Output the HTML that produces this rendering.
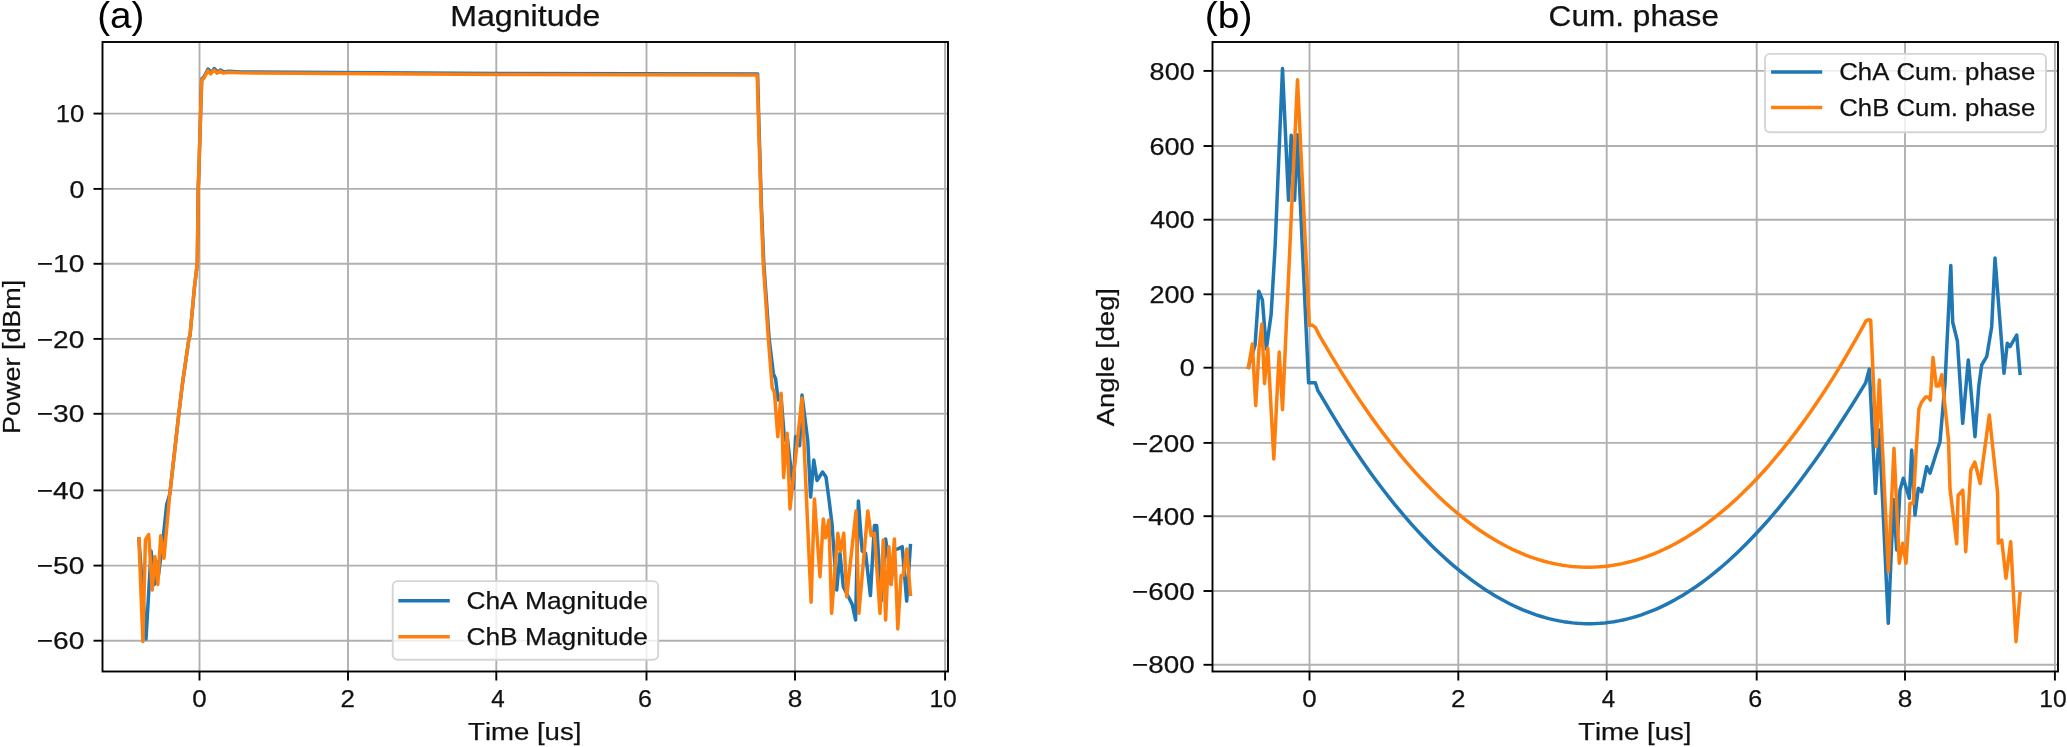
<!DOCTYPE html>
<html><head><meta charset="utf-8"><title>Magnitude and Cum. phase</title>
<style>
html,body{margin:0;padding:0;background:#fff;width:2067px;height:747px;overflow:hidden}
svg{display:block;will-change:transform}
text{font-family:"Liberation Sans",sans-serif;fill:#111;stroke:#111;stroke-width:0.25px;font-kerning:none}
text.nb{stroke:none;fill:#000}
</style></head>
<body><svg width="2067" height="747" viewBox="0 0 2067 747">
<rect x="0" y="0" width="2067" height="747" fill="#ffffff"/>
<defs><clipPath id="cl"><rect x="102.5" y="42.0" width="845.5" height="629.5"/></clipPath><clipPath id="cr"><rect x="1212.5" y="42.0" width="845.5" height="629.5"/></clipPath></defs>
<g stroke="#b0b0b0" stroke-width="1.9" stroke-linecap="square" clip-path="url(#cl)"><line x1="199.5" y1="42.0" x2="199.5" y2="671.5"/><line x1="348.0" y1="42.0" x2="348.0" y2="671.5"/><line x1="496.3" y1="42.0" x2="496.3" y2="671.5"/><line x1="646.5" y1="42.0" x2="646.5" y2="671.5"/><line x1="795.0" y1="42.0" x2="795.0" y2="671.5"/><line x1="945.1" y1="42.0" x2="945.1" y2="671.5"/><line x1="102.5" y1="113.60" x2="948.0" y2="113.60"/><line x1="102.5" y1="188.90" x2="948.0" y2="188.90"/><line x1="102.5" y1="263.80" x2="948.0" y2="263.80"/><line x1="102.5" y1="338.90" x2="948.0" y2="338.90"/><line x1="102.5" y1="413.80" x2="948.0" y2="413.80"/><line x1="102.5" y1="490.40" x2="948.0" y2="490.40"/><line x1="102.5" y1="565.60" x2="948.0" y2="565.60"/><line x1="102.5" y1="640.70" x2="948.0" y2="640.70"/></g>
<g clip-path="url(#cl)" fill="none" stroke-width="3.5" stroke-linejoin="round" stroke-linecap="square"><polyline stroke="#1f77b4" points="138.90,538.90 146.00,639.00 151.10,551.10 154.40,584.40 157.00,562.00 158.50,575.00 163.50,535.00 166.70,504.40 169.80,494.00 173.30,463.00 178.90,413.00 182.20,385.60 188.90,338.90 190.00,335.60 194.40,287.80 197.30,263.30 198.20,188.90 198.90,170.00 200.60,113.60 201.70,79.00 203.90,77.00 208.00,69.00 211.00,72.50 214.20,68.50 217.50,72.00 220.50,70.00 224.00,72.00 229.00,71.20 240.00,71.90 500.00,73.50 757.60,74.00 758.60,113.30 761.40,206.00 763.80,263.80 769.20,339.30 773.30,373.30 775.60,378.90 778.20,400.00 781.00,396.00 784.50,440.00 787.10,436.00 793.30,488.90 795.60,436.70 799.60,445.60 802.00,395.00 807.80,441.10 810.60,497.00 813.80,460.00 817.00,480.50 822.60,472.00 826.00,477.00 829.20,501.10 832.00,524.00 836.70,590.00 840.00,553.30 843.30,586.70 848.90,597.80 852.20,604.40 855.60,620.00 858.40,501.10 862.20,551.10 865.60,553.30 870.40,595.60 874.40,525.60 876.70,525.60 881.10,601.10 885.60,538.90 888.50,560.00 891.10,584.40 894.00,550.00 897.80,548.90 902.20,546.70 906.70,601.10 910.40,545.60"/><polyline stroke="#ff7f0e" points="138.90,538.90 142.90,641.50 145.40,539.90 148.70,534.50 152.20,590.00 154.90,556.50 157.80,584.40 160.70,535.80 164.00,558.20 169.60,495.60 173.30,463.30 178.90,413.30 182.20,385.60 188.90,338.90 190.00,335.60 194.40,287.80 197.30,263.30 198.20,188.90 198.90,170.00 200.60,113.60 201.70,80.00 203.90,78.30 207.80,70.60 210.60,73.90 213.90,70.00 217.20,73.10 220.00,71.10 223.30,73.10 228.90,72.20 240.00,72.80 500.00,74.40 757.20,75.00 758.30,113.30 761.10,206.00 763.30,263.80 768.40,339.30 772.20,387.80 774.40,392.20 777.80,436.70 781.10,393.30 783.60,477.50 787.10,433.30 790.00,508.90 802.00,398.00 811.10,602.20 814.40,498.90 820.00,576.70 823.30,518.90 825.60,537.80 828.90,520.00 831.60,613.30 837.80,533.30 840.40,551.10 843.80,533.30 846.70,596.70 856.00,511.10 858.90,613.30 867.80,511.10 871.10,535.60 874.40,533.30 880.00,613.30 883.30,540.00 885.60,620.00 888.90,546.70 891.10,584.40 894.40,538.90 897.80,628.90 901.10,575.60 903.30,575.60 906.70,548.90 910.40,594.40"/></g>
<rect x="102.5" y="42.0" width="845.5" height="629.5" fill="none" stroke="#000" stroke-width="1.9" stroke-linejoin="miter"/>
<g stroke="#000" stroke-width="1.9"><line x1="199.5" y1="671.5" x2="199.5" y2="680.5"/><line x1="348.0" y1="671.5" x2="348.0" y2="680.5"/><line x1="496.3" y1="671.5" x2="496.3" y2="680.5"/><line x1="646.5" y1="671.5" x2="646.5" y2="680.5"/><line x1="795.0" y1="671.5" x2="795.0" y2="680.5"/><line x1="945.1" y1="671.5" x2="945.1" y2="680.5"/><line x1="93.5" y1="113.60" x2="102.5" y2="113.60"/><line x1="93.5" y1="188.90" x2="102.5" y2="188.90"/><line x1="93.5" y1="263.80" x2="102.5" y2="263.80"/><line x1="93.5" y1="338.90" x2="102.5" y2="338.90"/><line x1="93.5" y1="413.80" x2="102.5" y2="413.80"/><line x1="93.5" y1="490.40" x2="102.5" y2="490.40"/><line x1="93.5" y1="565.60" x2="102.5" y2="565.60"/><line x1="93.5" y1="640.70" x2="102.5" y2="640.70"/></g>
<g stroke="#b0b0b0" stroke-width="1.9" stroke-linecap="square" clip-path="url(#cr)"><line x1="1309.5" y1="42.0" x2="1309.5" y2="671.5"/><line x1="1458.3" y1="42.0" x2="1458.3" y2="671.5"/><line x1="1606.7" y1="42.0" x2="1606.7" y2="671.5"/><line x1="1756.7" y1="42.0" x2="1756.7" y2="671.5"/><line x1="1905.0" y1="42.0" x2="1905.0" y2="671.5"/><line x1="2054.9" y1="42.0" x2="2054.9" y2="671.5"/><line x1="1212.5" y1="70.90" x2="2058.0" y2="70.90"/><line x1="1212.5" y1="146.00" x2="2058.0" y2="146.00"/><line x1="1212.5" y1="219.70" x2="2058.0" y2="219.70"/><line x1="1212.5" y1="294.30" x2="2058.0" y2="294.30"/><line x1="1212.5" y1="367.70" x2="2058.0" y2="367.70"/><line x1="1212.5" y1="442.90" x2="2058.0" y2="442.90"/><line x1="1212.5" y1="516.20" x2="2058.0" y2="516.20"/><line x1="1212.5" y1="591.00" x2="2058.0" y2="591.00"/><line x1="1212.5" y1="664.80" x2="2058.0" y2="664.80"/></g>
<g clip-path="url(#cr)" fill="none" stroke-width="3.5" stroke-linejoin="round" stroke-linecap="square"><polyline stroke="#1f77b4" points="1248.40,367.40 1255.10,344.70 1258.80,291.20 1262.40,299.90 1266.30,349.00 1271.10,314.60 1275.20,245.00 1282.50,68.40 1288.50,200.20 1291.20,135.30 1294.60,200.20 1297.20,134.70 1308.60,382.80 1315.30,382.80 1318.00,390.90 1321.00,395.54 1325.58,403.41 1330.15,411.12 1334.73,418.69 1339.31,426.10 1343.88,433.37 1348.46,440.49 1353.04,447.46 1357.61,454.29 1362.19,460.98 1366.76,467.52 1371.34,473.93 1375.92,480.19 1380.49,486.31 1385.07,492.29 1389.65,498.14 1394.22,503.85 1398.80,509.42 1403.38,514.86 1407.95,520.16 1412.53,525.33 1417.11,530.36 1421.68,535.25 1426.26,540.02 1430.84,544.65 1435.41,549.15 1439.99,553.51 1444.56,557.75 1449.14,561.85 1453.72,565.82 1458.29,569.66 1462.87,573.36 1467.45,576.94 1472.02,580.38 1476.60,583.69 1481.18,586.88 1485.75,589.93 1490.33,592.85 1494.91,595.63 1499.48,598.29 1504.06,600.82 1508.64,603.21 1513.21,605.47 1517.79,607.61 1522.36,609.60 1526.94,611.47 1531.52,613.21 1536.09,614.81 1540.67,616.28 1545.25,617.62 1549.82,618.83 1554.40,619.90 1558.98,620.85 1563.55,621.65 1568.13,622.33 1572.71,622.87 1577.28,623.28 1581.86,623.55 1586.44,623.69 1591.01,623.69 1595.59,623.56 1600.16,623.30 1604.74,622.90 1609.32,622.36 1613.89,621.70 1618.47,620.89 1623.05,619.95 1627.62,618.88 1632.20,617.66 1636.78,616.32 1641.35,614.83 1645.93,613.22 1650.51,611.46 1655.08,609.57 1659.66,607.55 1664.24,605.39 1668.81,603.09 1673.39,600.66 1677.96,598.09 1682.54,595.39 1687.12,592.55 1691.69,589.58 1696.27,586.47 1700.85,583.23 1705.42,579.85 1710.00,576.34 1714.58,572.70 1719.15,568.92 1723.73,565.01 1728.31,560.97 1732.88,556.80 1737.46,552.50 1742.04,548.07 1746.61,543.51 1751.19,538.82 1755.76,534.00 1760.34,529.05 1764.92,523.98 1769.49,518.79 1774.07,513.46 1778.65,508.02 1783.22,502.45 1787.80,496.76 1792.38,490.96 1796.95,485.03 1801.53,478.99 1806.11,472.83 1810.68,466.55 1815.26,460.16 1819.84,453.66 1824.41,447.05 1828.99,440.34 1833.56,433.51 1838.14,426.58 1842.72,419.55 1847.29,412.42 1851.87,405.19 1856.45,397.86 1861.02,390.44 1865.60,382.93 1869.30,369.30 1875.50,493.30 1879.30,430.00 1888.30,623.30 1893.50,499.50 1896.70,550.00 1900.00,490.00 1903.30,478.30 1909.30,498.30 1911.70,450.00 1915.00,515.00 1918.30,488.30 1921.70,491.70 1926.70,466.70 1930.00,473.30 1936.70,451.70 1940.00,441.70 1945.00,383.30 1950.80,265.40 1952.70,322.30 1957.40,341.00 1962.70,423.30 1968.30,360.00 1975.00,436.70 1978.80,386.10 1981.70,365.00 1986.70,356.70 1991.70,326.70 1995.00,258.00 2004.00,373.30 2007.30,343.30 2010.00,346.70 2016.70,335.00 2020.00,373.30"/><polyline stroke="#ff7f0e" points="1248.40,367.40 1252.40,344.00 1255.70,405.60 1259.10,348.00 1261.80,324.00 1264.50,383.50 1267.80,348.00 1273.80,458.90 1279.20,352.00 1282.50,409.60 1297.50,79.80 1309.30,325.30 1312.60,325.30 1315.30,327.30 1318.70,334.15 1323.30,342.12 1327.90,349.95 1332.50,357.64 1337.10,365.19 1341.70,372.61 1346.29,379.88 1350.89,387.02 1355.49,394.02 1360.09,400.88 1364.69,407.60 1369.29,414.19 1373.89,420.63 1378.49,426.93 1383.09,433.09 1387.69,439.12 1392.29,445.00 1396.89,450.74 1401.48,456.34 1406.08,461.81 1410.68,467.13 1415.28,472.31 1419.88,477.35 1424.48,482.26 1429.08,487.02 1433.68,491.64 1438.28,496.13 1442.88,500.47 1447.48,504.67 1452.08,508.74 1456.67,512.67 1461.27,516.46 1465.87,520.10 1470.47,523.62 1475.07,526.99 1479.67,530.22 1484.27,533.32 1488.87,536.28 1493.47,539.11 1498.07,541.79 1502.67,544.34 1507.27,546.76 1511.86,549.04 1516.46,551.18 1521.06,553.18 1525.66,555.06 1530.26,556.79 1534.86,558.40 1539.46,559.86 1544.06,561.20 1548.66,562.40 1553.26,563.46 1557.86,564.40 1562.46,565.20 1567.05,565.87 1571.65,566.40 1576.25,566.80 1580.85,567.08 1585.45,567.21 1590.05,567.22 1594.65,567.10 1599.25,566.84 1603.85,566.46 1608.45,565.94 1613.05,565.29 1617.65,564.51 1622.24,563.60 1626.84,562.56 1631.44,561.39 1636.04,560.09 1640.64,558.65 1645.24,557.09 1649.84,555.40 1654.44,553.57 1659.04,551.62 1663.64,549.53 1668.24,547.32 1672.84,544.97 1677.43,542.49 1682.03,539.88 1686.63,537.14 1691.23,534.26 1695.83,531.26 1700.43,528.12 1705.03,524.85 1709.63,521.44 1714.23,517.90 1718.83,514.23 1723.43,510.42 1728.03,506.48 1732.62,502.40 1737.22,498.18 1741.82,493.83 1746.42,489.34 1751.02,484.71 1755.62,479.94 1760.22,475.03 1764.82,469.98 1769.42,464.79 1774.02,459.45 1778.62,453.98 1783.22,448.35 1787.81,442.58 1792.41,436.67 1797.01,430.60 1801.61,424.39 1806.21,418.02 1810.81,411.50 1815.41,404.83 1820.01,398.00 1824.61,391.02 1829.21,383.88 1833.81,376.58 1838.41,369.12 1843.00,361.49 1847.60,353.70 1852.20,345.74 1856.80,337.62 1861.40,329.32 1866.00,320.85 1868.70,319.60 1870.70,320.30 1876.30,446.70 1879.30,380.00 1888.30,571.70 1894.00,448.30 1899.30,563.30 1902.70,543.30 1906.00,563.30 1910.00,503.30 1913.30,503.30 1916.20,449.70 1918.90,408.90 1921.60,402.20 1925.60,396.90 1928.30,396.90 1930.30,400.20 1933.00,357.40 1936.30,386.10 1939.00,386.10 1941.70,374.80 1948.50,440.00 1950.00,488.80 1956.70,543.70 1958.10,495.50 1962.80,490.20 1965.70,551.70 1970.80,470.10 1974.80,462.00 1980.20,483.50 1983.10,460.70 1989.30,415.00 1997.60,492.80 1998.30,543.30 2001.70,540.00 2006.00,578.30 2010.70,541.70 2016.00,641.70 2020.00,593.30"/></g>
<rect x="1212.5" y="42.0" width="845.5" height="629.5" fill="none" stroke="#000" stroke-width="1.9" stroke-linejoin="miter"/>
<g stroke="#000" stroke-width="1.9"><line x1="1309.5" y1="671.5" x2="1309.5" y2="680.5"/><line x1="1458.3" y1="671.5" x2="1458.3" y2="680.5"/><line x1="1606.7" y1="671.5" x2="1606.7" y2="680.5"/><line x1="1756.7" y1="671.5" x2="1756.7" y2="680.5"/><line x1="1905.0" y1="671.5" x2="1905.0" y2="680.5"/><line x1="2054.9" y1="671.5" x2="2054.9" y2="680.5"/><line x1="1203.5" y1="70.90" x2="1212.5" y2="70.90"/><line x1="1203.5" y1="146.00" x2="1212.5" y2="146.00"/><line x1="1203.5" y1="219.70" x2="1212.5" y2="219.70"/><line x1="1203.5" y1="294.30" x2="1212.5" y2="294.30"/><line x1="1203.5" y1="367.70" x2="1212.5" y2="367.70"/><line x1="1203.5" y1="442.90" x2="1212.5" y2="442.90"/><line x1="1203.5" y1="516.20" x2="1212.5" y2="516.20"/><line x1="1203.5" y1="591.00" x2="1212.5" y2="591.00"/><line x1="1203.5" y1="664.80" x2="1212.5" y2="664.80"/></g>
<text x="55.74" y="122.20" font-size="24.40" textLength="28.56" lengthAdjust="spacingAndGlyphs">10</text>
<text x="69.45" y="197.50" font-size="24.40" textLength="14.89" lengthAdjust="spacingAndGlyphs">0</text>
<text x="36.71" y="272.40" font-size="24.40" textLength="47.68" lengthAdjust="spacingAndGlyphs">−10</text>
<text x="36.71" y="347.50" font-size="24.40" textLength="47.68" lengthAdjust="spacingAndGlyphs">−20</text>
<text x="36.71" y="422.40" font-size="24.40" textLength="47.68" lengthAdjust="spacingAndGlyphs">−30</text>
<text x="36.71" y="499.00" font-size="24.40" textLength="47.68" lengthAdjust="spacingAndGlyphs">−40</text>
<text x="36.71" y="574.20" font-size="24.40" textLength="47.68" lengthAdjust="spacingAndGlyphs">−50</text>
<text x="36.71" y="649.30" font-size="24.40" textLength="47.68" lengthAdjust="spacingAndGlyphs">−60</text>
<text x="1149.63" y="79.50" font-size="24.40" textLength="45.03" lengthAdjust="spacingAndGlyphs">800</text>
<text x="1149.42" y="154.60" font-size="24.40" textLength="45.24" lengthAdjust="spacingAndGlyphs">600</text>
<text x="1150.19" y="228.30" font-size="24.40" textLength="44.45" lengthAdjust="spacingAndGlyphs">400</text>
<text x="1149.44" y="302.90" font-size="24.40" textLength="45.22" lengthAdjust="spacingAndGlyphs">200</text>
<text x="1179.75" y="376.30" font-size="24.40" textLength="14.89" lengthAdjust="spacingAndGlyphs">0</text>
<text x="1132.03" y="451.50" font-size="24.40" textLength="62.66" lengthAdjust="spacingAndGlyphs">−200</text>
<text x="1132.03" y="524.80" font-size="24.40" textLength="62.66" lengthAdjust="spacingAndGlyphs">−400</text>
<text x="1132.03" y="599.60" font-size="24.40" textLength="62.66" lengthAdjust="spacingAndGlyphs">−600</text>
<text x="1132.03" y="673.40" font-size="24.40" textLength="62.66" lengthAdjust="spacingAndGlyphs">−800</text>
<text x="192.29" y="706.50" font-size="24.40" textLength="14.43" lengthAdjust="spacingAndGlyphs">0</text>
<text x="340.60" y="706.50" font-size="24.40" textLength="14.41" lengthAdjust="spacingAndGlyphs">2</text>
<text x="491.24" y="706.50" font-size="24.40" textLength="13.46" lengthAdjust="spacingAndGlyphs">4</text>
<text x="638.12" y="706.50" font-size="24.40" textLength="13.98" lengthAdjust="spacingAndGlyphs">6</text>
<text x="787.86" y="706.50" font-size="24.40" textLength="14.58" lengthAdjust="spacingAndGlyphs">8</text>
<text x="929.42" y="706.50" font-size="24.40" textLength="27.44" lengthAdjust="spacingAndGlyphs">10</text>
<text x="1302.29" y="706.50" font-size="24.40" textLength="14.43" lengthAdjust="spacingAndGlyphs">0</text>
<text x="1450.90" y="706.50" font-size="24.40" textLength="14.41" lengthAdjust="spacingAndGlyphs">2</text>
<text x="1601.64" y="706.50" font-size="24.40" textLength="13.46" lengthAdjust="spacingAndGlyphs">4</text>
<text x="1748.32" y="706.50" font-size="24.40" textLength="13.98" lengthAdjust="spacingAndGlyphs">6</text>
<text x="1897.86" y="706.50" font-size="24.40" textLength="14.58" lengthAdjust="spacingAndGlyphs">8</text>
<text x="2039.22" y="706.50" font-size="24.40" textLength="27.44" lengthAdjust="spacingAndGlyphs">10</text>
<text x="468.08" y="740.20" font-size="24.40" textLength="113.28" lengthAdjust="spacingAndGlyphs">Time [us]</text>
<text x="1578.18" y="740.20" font-size="24.40" textLength="113.28" lengthAdjust="spacingAndGlyphs">Time [us]</text>
<text x="450.16" y="25.80" font-size="29.50" textLength="150.17" lengthAdjust="spacingAndGlyphs">Magnitude</text>
<text x="1548.59" y="25.80" font-size="29.50" textLength="170.41" lengthAdjust="spacingAndGlyphs">Cum. phase</text>
<text x="97.20" y="27.70" font-size="37.50" textLength="47.30" lengthAdjust="spacingAndGlyphs" class="nb">(a)</text>
<text x="1204.78" y="27.70" font-size="37.50" textLength="47.63" lengthAdjust="spacingAndGlyphs" class="nb">(b)</text>
<g transform="translate(19.8,431.7) rotate(-90)"><text x="-2.21" y="0.00" font-size="24.40" textLength="154.13" lengthAdjust="spacingAndGlyphs">Power [dBm]</text></g>
<g transform="translate(1113.9,426.1) rotate(-90)"><text x="-0.05" y="0.00" font-size="24.40" textLength="138.10" lengthAdjust="spacingAndGlyphs">Angle [deg]</text></g>
<rect x="392.7" y="581.1" width="265.50000000000006" height="78.60000000000002" rx="5" ry="5" fill="#ffffff" fill-opacity="0.8" stroke="#d5d5d5" stroke-width="1.9"/>
<line x1="398.3" y1="600.8" x2="449.8" y2="600.8" stroke="#1f77b4" stroke-width="3.5"/>
<line x1="398.3" y1="636.7" x2="449.8" y2="636.7" stroke="#ff7f0e" stroke-width="3.5"/>
<text x="466.46" y="609.10" font-size="24.40" textLength="181.41" lengthAdjust="spacingAndGlyphs">ChA Magnitude</text>
<text x="466.46" y="645.00" font-size="24.40" textLength="181.41" lengthAdjust="spacingAndGlyphs">ChB Magnitude</text>
<rect x="1765.0" y="53.9" width="281.0" height="78.29999999999998" rx="5" ry="5" fill="#ffffff" fill-opacity="0.8" stroke="#d5d5d5" stroke-width="1.9"/>
<line x1="1771.1" y1="71.9" x2="1822.2" y2="71.9" stroke="#1f77b4" stroke-width="3.5"/>
<line x1="1771.1" y1="107.4" x2="1822.2" y2="107.4" stroke="#ff7f0e" stroke-width="3.5"/>
<text x="1839.29" y="80.00" font-size="24.40" textLength="195.95" lengthAdjust="spacingAndGlyphs">ChA Cum. phase</text>
<text x="1839.29" y="115.90" font-size="24.40" textLength="195.95" lengthAdjust="spacingAndGlyphs">ChB Cum. phase</text>
</svg></body></html>
